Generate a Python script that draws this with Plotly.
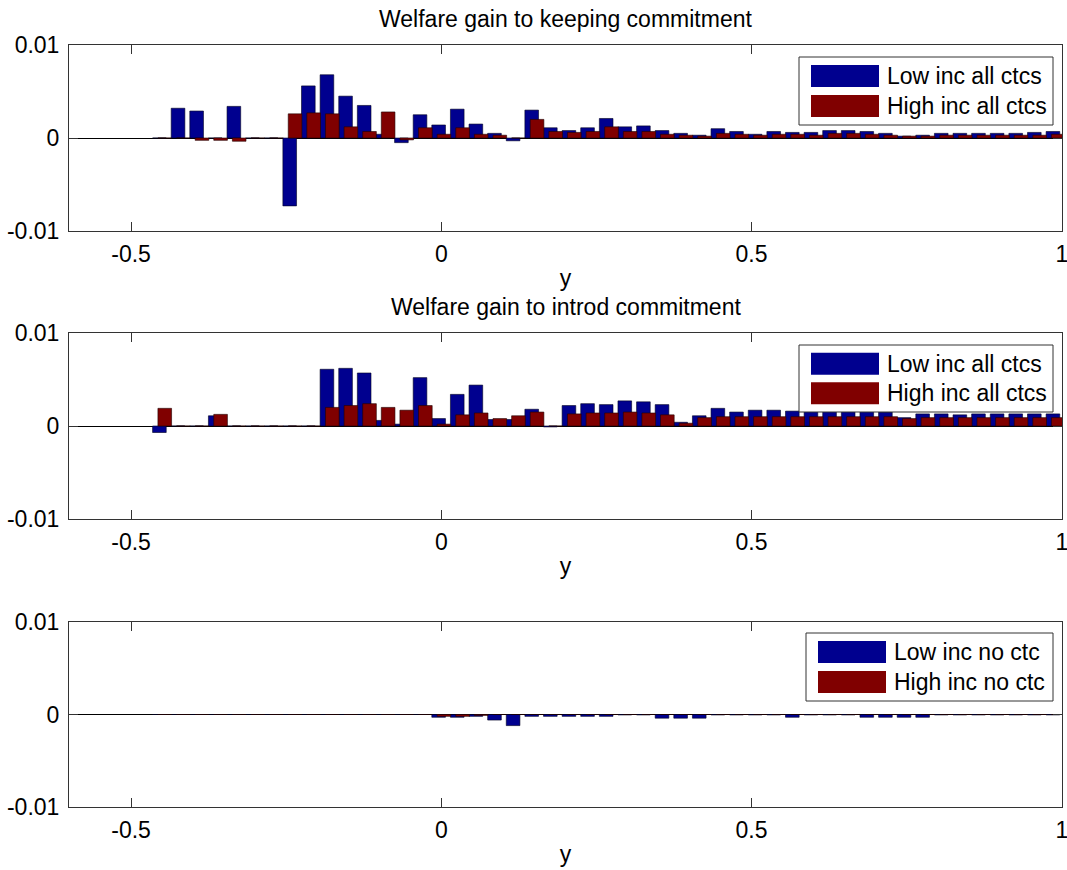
import plotly.graph_objects as go

# ---------------- data ----------------
x_groups = [-0.45, -0.42, -0.39, -0.36, -0.33, -0.30, -0.27, -0.24, -0.21, -0.18,
            -0.15, -0.12, -0.09, -0.06, -0.03, 0.00, 0.03, 0.06, 0.09, 0.12,
            0.15, 0.18, 0.21, 0.24, 0.27, 0.30, 0.33, 0.36, 0.39, 0.42,
            0.45, 0.48, 0.51, 0.54, 0.57, 0.60, 0.63, 0.66, 0.69, 0.72,
            0.75, 0.78, 0.81, 0.84, 0.87, 0.90, 0.93, 0.96, 0.99]

keep_low = [0, 0.0032, 0.0029, 0, 0.0034, 0, 0, -0.0073, 0.0056, 0.0068,
            0.0045, 0.0035, 0.0004, -0.0005, 0.0025, 0.0014, 0.0031, 0.0015, 0.0005, -0.0003,
            0.0030, 0.0011, 0.0008, 0.0011, 0.0021, 0.0012, 0.0013, 0.0008, 0.0005, 0.0003,
            0.0010, 0.0007, 0.0004, 0.0007, 0.0006, 0.0006, 0.0008, 0.0008, 0.0007, 0.0005,
            0.0002, 0.0003, 0.0005, 0.0005, 0.0005, 0.0005, 0.0005, 0.0006, 0.0007]
keep_high = [0, 0, -0.00025, -0.00025, -0.00035, 0, 0, 0.0026, 0.0027, 0.0026,
             0.0012, 0.0007, 0.0028, -0.0002, 0.0011, 0.0004, 0.0011, 0.0004, 0.0003, 0,
             0.0020, 0.0007, 0.0006, 0.0007, 0.0012, 0.0007, 0.0007, 0.0004, 0.0003, 0.0002,
             0.0005, 0.0004, 0.0003, 0.0004, 0.0004, 0.0003, 0.0005, 0.0005, 0.0004, 0.0003,
             0.0002, 0.0002, 0.0003, 0.0003, 0.0003, 0.0003, 0.0003, 0.0003, 0.0004]

introd_low = [-0.0007, 0, 0, 0.0011, 0, 0, 0, 0, 0, 0.0061,
              0.0062, 0.0057, 0.0006, 0.0002, 0.0052, 0.0008, 0.0034, 0.0044, 0.0007, 0.0007,
              0.0018, -0.0001, 0.0022, 0.0024, 0.0023, 0.0027, 0.0026, 0.0023, 0.0004, 0.0011,
              0.0019, 0.0015, 0.0017, 0.0017, 0.0016, 0.0016, 0.0016, 0.0016, 0.0016, 0.0015,
              0.0009, 0.0013, 0.0013, 0.0012, 0.0013, 0.0013, 0.0013, 0.0013, 0.0013]
introd_high = [0.0019, 0, 0, 0.00125, 0, 0, 0, 0, 0, 0.0020,
               0.0022, 0.0024, 0.0020, 0.0017, 0.0022, 0.0002, 0.0012, 0.0014, 0.0008, 0.0011,
               0.0015, 0, 0.0013, 0.0014, 0.0014, 0.0015, 0.0014, 0.0012, 0.0003, 0.0009,
               0.0010, 0.0010, 0.0010, 0.0010, 0.0010, 0.0010, 0.0010, 0.0010, 0.0010, 0.0010,
               0.0008, 0.0009, 0.0009, 0.0009, 0.0009, 0.0009, 0.0009, 0.0009, 0.0009]

noctc_low = [0, 0, 0, 0, 0, 0, 0, 0, 0, 0,
             0, 0, 0, 0, 0, -0.0003, -0.0003, -0.0002, -0.0006, -0.0012,
             -0.0002, -0.0002, -0.0002, -0.0002, -0.0002, -0.00005, -0.00005, -0.0004, -0.0004, -0.0004,
             -0.00005, -0.00005, -0.00005, -0.00005, -0.0003, -0.00005, -0.00005, -0.00005, -0.0003, -0.0003,
             -0.0003, -0.0003, -0.00005, -0.00005, -0.00005, -0.00005, -0.00005, -0.00005, -0.00005]
noctc_high = [0, 0, 0, 0, 0, 0, 0, 0, 0, 0,
              0, 0, 0, 0, 0, -0.0002, -0.0002, -0.0001, 0, 0,
              0, 0, 0, 0, 0, 0, 0, 0, 0, 0,
              0, 0, 0, 0, 0, 0, 0, 0, 0, 0,
              0, 0, 0, 0, 0, 0, 0, 0, 0]

panel_titles = ["Welfare gain to keeping commitment", "Welfare gain to introd commitment", ""]
legend_names = [("Low inc all ctcs", "High inc all ctcs"),
                ("Low inc all ctcs", "High inc all ctcs"),
                ("Low inc no ctc", "High inc no ctc")]
x_tickvals = [-0.5, 0, 0.5, 1]
x_ticktext = ["-0.5", "0", "0.5", "1"]
y_tickvals = [-0.01, 0, 0.01]
y_ticktext = ["-0.01", "0", "0.01"]

# ---------------- layout constants ----------------
W, H = 1067, 870
L, R = 69, 5
PW = W - L - R
FONT = "Liberation Sans, Arial, Helvetica, sans-serif"
FS = 23
BLUE = "#00008F"
RED = "#800000"
FRAME = "#333333"
BAR_W = 0.022
OFF_B = -0.0153
OFF_R = -0.0067

# pixel boxes of the three axes (top, bottom)
frames = [(45, 231), (333, 519), (622, 807)]
# legend boxes: (left, top, right, bottom)
legend_boxes = [(799, 57, 1053, 125), (799, 345, 1053, 412), (806, 633, 1053, 701)]


def fx(px):
    return (px - L) / PW


def fy(py):
    return 1 - py / H


data = [(keep_low, keep_high), (introd_low, introd_high), (noctc_low, noctc_high)]

fig = go.Figure()
layout = dict(
    width=W, height=H,
    margin=dict(l=L, r=R, t=0, b=0),
    paper_bgcolor="white", plot_bgcolor="white",
    barmode="overlay", showlegend=False,
    font=dict(family=FONT, size=FS, color="black"),
)
shapes = []
annotations = []

for i, ((lo, hi), (top, bot)) in enumerate(zip(data, frames)):
    sfx = "" if i == 0 else str(i + 1)
    fig.add_trace(go.Bar(x=x_groups, y=lo, width=BAR_W, offset=OFF_B,
                         marker=dict(color=BLUE, line=dict(color="#000020", width=0.6)),
                         name=legend_names[i][0], xaxis="x" + sfx, yaxis="y" + sfx))
    fig.add_trace(go.Bar(x=x_groups, y=hi, width=BAR_W, offset=OFF_R,
                         marker=dict(color=RED, line=dict(color="#200000", width=0.6)),
                         name=legend_names[i][1], xaxis="x" + sfx, yaxis="y" + sfx))
    layout["xaxis" + sfx] = dict(
        domain=[0, 1], anchor="y" + sfx, range=[-0.6, 1.0003],
        tickvals=x_tickvals, ticktext=x_ticktext,
        ticks="inside", ticklen=9, tickcolor=FRAME, tickwidth=1,
        showline=True, linecolor=FRAME, linewidth=1, mirror="ticks",
        showgrid=False, zeroline=False, automargin=False,
        ticklabelstandoff=2, ticklabeloverflow="allow",
        tickfont=dict(family=FONT, size=FS, color="black"),
        title=dict(text="y", standoff=4, font=dict(family=FONT, size=FS, color="black")),
    )
    layout["yaxis" + sfx] = dict(
        domain=[fy(bot), fy(top)], anchor="x" + sfx, range=[-0.01, 0.01],
        tickvals=y_tickvals, ticktext=y_ticktext,
        ticks="inside", ticklen=9, tickcolor=FRAME, tickwidth=1,
        showline=True, linecolor=FRAME, linewidth=1, mirror="ticks",
        showgrid=False, zeroline=True, zerolinecolor="#000000", zerolinewidth=1,
        automargin=False, ticklabelstandoff=4, ticklabeloverflow="allow",
        tickfont=dict(family=FONT, size=FS, color="black"),
    )
    if panel_titles[i]:
        annotations.append(dict(text=panel_titles[i], xref="paper", yref="paper",
                                x=fx((L + W - R) / 2), y=fy(top - 26), xanchor="center",
                                yanchor="middle", showarrow=False,
                                font=dict(family=FONT, size=FS, color="black")))
    # manual legend (wide swatches like the original)
    lx0, ly0, lx1, ly1 = legend_boxes[i]
    shapes.append(dict(type="rect", xref="paper", yref="paper",
                       x0=fx(lx0), x1=fx(lx1), y0=fy(ly1), y1=fy(ly0),
                       fillcolor="white", line=dict(color=FRAME, width=1), layer="above"))
    sw_l = lx0 + 12
    sw_r = sw_l + 68
    row_h = (ly1 - ly0) / 2
    for j, col in enumerate([BLUE, RED]):
        cy = ly0 + row_h * (j + 0.5) + (2 if j == 0 else -2)
        shapes.append(dict(type="rect", xref="paper", yref="paper",
                           x0=fx(sw_l), x1=fx(sw_r), y0=fy(cy + 11), y1=fy(cy - 11),
                           fillcolor=col, line=dict(color=col, width=0), layer="above"))
        annotations.append(dict(text=legend_names[i][j], xref="paper", yref="paper",
                                x=fx(sw_r + 6), y=fy(cy), xanchor="left", yanchor="middle",
                                showarrow=False,
                                font=dict(family=FONT, size=FS, color="black")))

layout["shapes"] = shapes
layout["annotations"] = annotations
fig.update_layout(**layout)
fig.write_html("out.html")
